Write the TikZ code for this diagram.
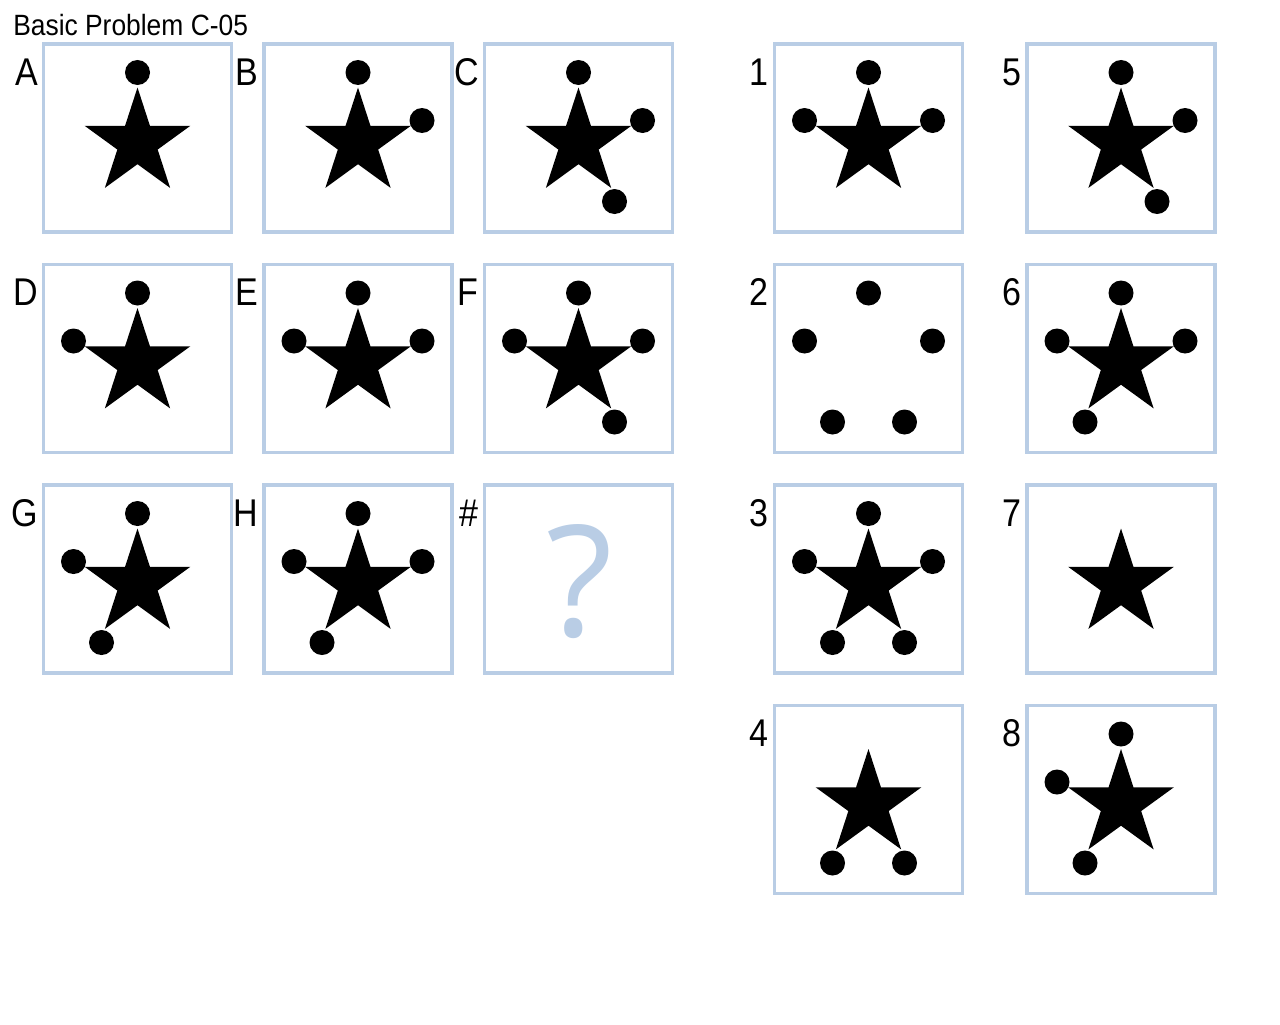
\documentclass[tikz,border=0pt]{standalone}
\usepackage{fontspec}
\setmainfont{Liberation Sans}
\newfontfamily\qfont{Open Sans}
\usetikzlibrary{shapes.geometric}
\definecolor{panelblue}{RGB}{185,205,229}
\tikzstyle{panel} = [draw=panelblue, line width=2.6pt, minimum size=141pt, inner sep=0pt]
\tikzstyle{starshape} = [star, star points=5, star point ratio=2.618, minimum size=83.25pt, inner sep=0pt, fill=black]
\tikzstyle{dot} = [circle, fill=black, minimum size=18.75pt, inner sep=0pt]
\tikzstyle{tag} = [anchor=base east, inner sep=0pt, font=\fontsize{29}{30}\selectfont]
\newcommand{\narrow}[1]{\scalebox{0.88}[1]{#1}}

\begin{document}
\begin{tikzpicture}[x=0.75pt, y=-0.75pt]
      \useasboundingbox (0,0) rectangle (1280,1024);
      \node[anchor=base west, inner sep=0pt, font=\fontsize{22}{24}\selectfont] (title) at (13, 36) {\scalebox{0.9}[1]{Basic Problem C-05}};

      % problem matrix
      \node[panel] (boxA) at (137.5, 138) {};
      \node[tag] (tagA) at (38, 85) {\narrow{A}};
      \node[starshape] (starA) at (137.5, 143) {};
      \node[dot] (dotAt) at (137.5, 72.5) {};

      \node[panel] (boxB) at (358, 138) {};
      \node[tag] (tagB) at (258.5, 85) {\narrow{B}};
      \node[starshape] (starB) at (358, 143) {};
      \node[dot] (dotBt) at (358, 72.5) {};
      \node[dot] (dotBr) at (422, 120.5) {};

      \node[panel] (boxC) at (578.5, 138) {};
      \node[tag] (tagC) at (479, 85) {\narrow{C}};
      \node[starshape] (starC) at (578.5, 143) {};
      \node[dot] (dotCt) at (578.5, 72.5) {};
      \node[dot] (dotCr) at (642.5, 120.5) {};
      \node[dot] (dotCbr) at (614.5, 201.5) {};

      \node[panel] (boxD) at (137.5, 358.5) {};
      \node[tag] (tagD) at (38, 305.5) {\narrow{D}};
      \node[starshape] (starD) at (137.5, 363.5) {};
      \node[dot] (dotDt) at (137.5, 293) {};
      \node[dot] (dotDl) at (73.5, 341) {};

      \node[panel] (boxE) at (358, 358.5) {};
      \node[tag] (tagE) at (258.5, 305.5) {\narrow{E}};
      \node[starshape] (starE) at (358, 363.5) {};
      \node[dot] (dotEt) at (358, 293) {};
      \node[dot] (dotEl) at (294, 341) {};
      \node[dot] (dotEr) at (422, 341) {};

      \node[panel] (boxF) at (578.5, 358.5) {};
      \node[tag] (tagF) at (479, 305.5) {\narrow{F}};
      \node[starshape] (starF) at (578.5, 363.5) {};
      \node[dot] (dotFt) at (578.5, 293) {};
      \node[dot] (dotFl) at (514.5, 341) {};
      \node[dot] (dotFr) at (642.5, 341) {};
      \node[dot] (dotFbr) at (614.5, 422) {};

      \node[panel] (boxG) at (137.5, 579) {};
      \node[tag] (tagG) at (38, 526) {\narrow{G}};
      \node[starshape] (starG) at (137.5, 584) {};
      \node[dot] (dotGt) at (137.5, 513.5) {};
      \node[dot] (dotGl) at (73.5, 561.5) {};
      \node[dot] (dotGbl) at (101.5, 642.5) {};

      \node[panel] (boxH) at (358, 579) {};
      \node[tag] (tagH) at (258.5, 526) {\narrow{H}};
      \node[starshape] (starH) at (358, 584) {};
      \node[dot] (dotHt) at (358, 513.5) {};
      \node[dot] (dotHl) at (294, 561.5) {};
      \node[dot] (dotHr) at (422, 561.5) {};
      \node[dot] (dotHbl) at (322, 642.5) {};

      \node[panel] (boxQ) at (578.5, 579) {};
      \node[tag] (tagQ) at (479, 526) {\narrow{\#}};
      \node[anchor=base, inner sep=0pt, text=panelblue, font=\qfont\fontsize{116}{120}\selectfont] (qmark) at (579.5, 636) {?};

      % answer choices
      \node[panel] (box1) at (868.5, 138) {};
      \node[tag] (tag1) at (769, 85) {\narrow{1}};
      \node[starshape] (star1) at (868.5, 143) {};
      \node[dot] (dot1t) at (868.5, 72.5) {};
      \node[dot] (dot1l) at (804.5, 120.5) {};
      \node[dot] (dot1r) at (932.5, 120.5) {};

      \node[panel] (box2) at (868.5, 358.5) {};
      \node[tag] (tag2) at (769, 305.5) {\narrow{2}};
      \node[dot] (dot2t) at (868.5, 293) {};
      \node[dot] (dot2l) at (804.5, 341) {};
      \node[dot] (dot2r) at (932.5, 341) {};
      \node[dot] (dot2bl) at (832.5, 422) {};
      \node[dot] (dot2br) at (904.5, 422) {};

      \node[panel] (box3) at (868.5, 579) {};
      \node[tag] (tag3) at (769, 526) {\narrow{3}};
      \node[starshape] (star3) at (868.5, 584) {};
      \node[dot] (dot3t) at (868.5, 513.5) {};
      \node[dot] (dot3l) at (804.5, 561.5) {};
      \node[dot] (dot3r) at (932.5, 561.5) {};
      \node[dot] (dot3bl) at (832.5, 642.5) {};
      \node[dot] (dot3br) at (904.5, 642.5) {};

      \node[panel] (box4) at (868.5, 799.5) {};
      \node[tag] (tag4) at (769, 746.5) {\narrow{4}};
      \node[starshape] (star4) at (868.5, 804.5) {};
      \node[dot] (dot4bl) at (832.5, 863) {};
      \node[dot] (dot4br) at (904.5, 863) {};

      \node[panel] (box5) at (1121, 138) {};
      \node[tag] (tag5) at (1021.5, 85) {\narrow{5}};
      \node[starshape] (star5) at (1121, 143) {};
      \node[dot] (dot5t) at (1121, 72.5) {};
      \node[dot] (dot5r) at (1185, 120.5) {};
      \node[dot] (dot5br) at (1157, 201.5) {};

      \node[panel] (box6) at (1121, 358.5) {};
      \node[tag] (tag6) at (1021.5, 305.5) {\narrow{6}};
      \node[starshape] (star6) at (1121, 363.5) {};
      \node[dot] (dot6t) at (1121, 293) {};
      \node[dot] (dot6l) at (1057, 341) {};
      \node[dot] (dot6r) at (1185, 341) {};
      \node[dot] (dot6bl) at (1085, 422) {};

      \node[panel] (box7) at (1121, 579) {};
      \node[tag] (tag7) at (1021.5, 526) {\narrow{7}};
      \node[starshape] (star7) at (1121, 584) {};

      \node[panel] (box8) at (1121, 799.5) {};
      \node[tag] (tag8) at (1021.5, 746.5) {\narrow{8}};
      \node[starshape] (star8) at (1121, 804.5) {};
      \node[dot] (dot8t) at (1121, 734) {};
      \node[dot] (dot8l) at (1057, 782) {};
      \node[dot] (dot8bl) at (1085, 863) {};
    \end{tikzpicture}
\end{document}
